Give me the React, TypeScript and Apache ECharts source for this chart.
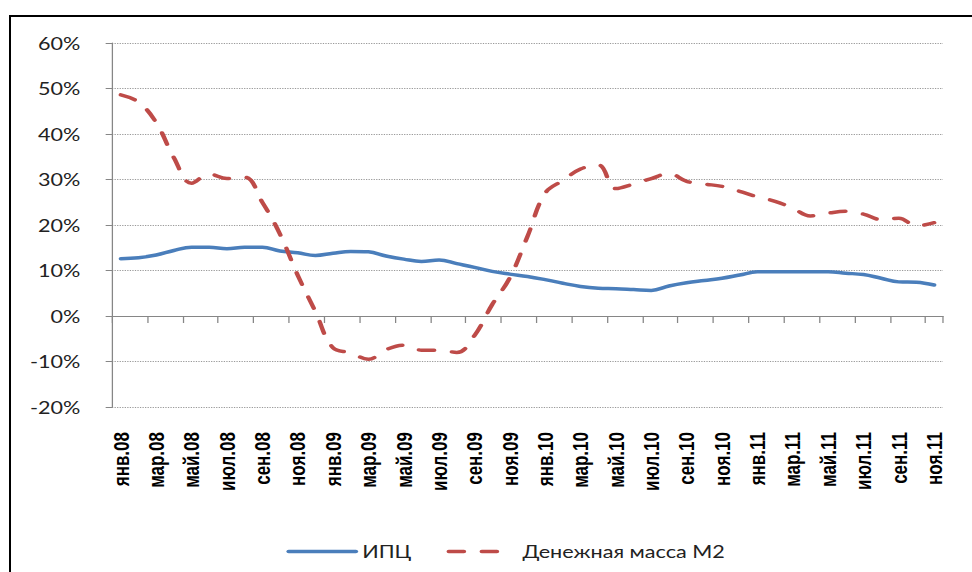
import React, { useEffect, useRef } from "react";
import * as echarts from "echarts";

const months = [
  "янв.08", "фев.08", "мар.08", "апр.08", "май.08", "июн.08", "июл.08", "авг.08", "сен.08", "окт.08", "ноя.08", "дек.08",
  "янв.09", "фев.09", "мар.09", "апр.09", "май.09", "июн.09", "июл.09", "авг.09", "сен.09", "окт.09", "ноя.09", "дек.09",
  "янв.10", "фев.10", "мар.10", "апр.10", "май.10", "июн.10", "июл.10", "авг.10", "сен.10", "окт.10", "ноя.10", "дек.10",
  "янв.11", "фев.11", "мар.11", "апр.11", "май.11", "июн.11", "июл.11", "авг.11", "сен.11", "окт.11", "ноя.11",
];

const cpi = [
  12.6, 12.8, 13.4, 14.4, 15.1, 15.1, 14.8, 15.1, 15.1, 14.3, 13.9, 13.3,
  13.8, 14.2, 14.1, 13.2, 12.5, 12.0, 12.3, 11.5, 10.7, 9.8, 9.2, 8.7,
  8.0, 7.2, 6.5, 6.1, 6.0, 5.8, 5.6, 6.6, 7.3, 7.8, 8.3, 9.0,
  9.7, 9.7, 9.7, 9.7, 9.7, 9.4, 9.1, 8.3, 7.5, 7.4, 6.8,
];

const m2 = [
  48.6, 47.0, 42.5, 34.8, 29.2, 31.2, 30.2, 30.5, 25.0, 18.0, 9.0, 1.0,
  -7.0, -8.1, -9.5, -7.4, -6.4, -7.5, -7.5, -8.0, -4.3, 2.5, 8.4, 17.5,
  27.0, 29.8, 32.3, 33.2, 28.0, 29.0, 30.2, 31.3, 29.6, 29.0, 28.5, 27.4,
  26.2, 25.2, 23.7, 22.0, 22.6, 23.0, 22.4, 21.2, 21.5, 19.8, 20.5,
];

const seriesNames = ["ИПЦ", "Денежная масса М2"];
const yMin = -20;
const yMax = 60;
const yStep = 10;

const STRETCH = 1.27;
const W = 972;
const H = 572;
const IW = W / STRETCH;

export default function App() {
  const ref = useRef<HTMLDivElement>(null);

  useEffect(() => {
    if (!ref.current) return;
    const chart = echarts.init(ref.current, null, { renderer: "svg", width: IW, height: H });
    const axisGray = "#868686";
    chart.setOption({
      animation: false,
      backgroundColor: "#ffffff",
      grid: { left: 112 / STRETCH, right: (W - 943) / STRETCH, top: 43, bottom: H - 407, containLabel: false },
      legend: {
        left: 220.5,
        top: 538,
        itemWidth: 53,
        itemHeight: 14,
        itemGap: 27.6,
        data: [
          { name: seriesNames[0] },
          { name: seriesNames[1], lineStyle: { type: [12, 14, 12, 40] } },
        ],
        itemStyle: { opacity: 0 },
        lineStyle: { width: 3.5, cap: "round" },
        textStyle: { fontFamily: "Lato", fontSize: 17, color: "#222" },
      },
      xAxis: [
        {
          type: "category",
          data: months,
          position: "bottom",
          boundaryGap: true,
          axisLine: { show: false, onZero: false },
          axisTick: { show: false },
          splitLine: { show: false },
          axisLabel: {
            interval: 1,
            rotate: 90,
            fontFamily: "Liberation Sans, Arial",
            fontWeight: "bold",
            fontSize: 17,
            color: "#000",
            margin: 25,
          },
        },
        {
          type: "category",
          data: months,
          position: "top",
          boundaryGap: true,
          axisLine: { show: true, onZero: true, lineStyle: { color: axisGray, width: 1 } },
          axisTick: { show: true, interval: 1, inside: true, length: 7, lineStyle: { color: axisGray, width: 1 } },
          axisLabel: { show: false },
          splitLine: { show: false },
        },
      ],
      yAxis: {
        type: "value",
        min: yMin,
        max: yMax,
        interval: yStep,
        axisLine: { show: true, onZero: false, lineStyle: { color: axisGray, width: 1 } },
        axisTick: { show: true, length: 5, lineStyle: { color: axisGray, width: 1 } },
        axisLabel: { formatter: "{value}%", fontFamily: "Lato", fontSize: 17, color: "#222", margin: 25 },
        splitLine: { show: true, lineStyle: { type: "dotted", color: "#9a9a9a", width: 1 } },
      },
      series: [
        {
          name: seriesNames[0],
          type: "line",
          data: cpi,
          xAxisIndex: 0,
          symbol: "none",
          smooth: 0.4,
          lineStyle: { color: "#4A7EBB", width: 3.5, cap: "round", join: "round" },
          itemStyle: { color: "#4A7EBB" },
        },
        {
          name: seriesNames[1],
          type: "line",
          data: m2,
          xAxisIndex: 0,
          symbol: "none",
          smooth: 0.4,
          lineStyle: { color: "#BE4B48", width: 3.5, type: [12, 14], cap: "round", join: "round" },
          itemStyle: { color: "#BE4B48" },
        },
      ],
    });
    return () => chart.dispose();
  }, []);

  return (
    <div style={{ position: "fixed", left: 0, top: 0, width: W, height: H, overflow: "hidden", background: "#fff" }}>
      <div
        ref={ref}
        style={{
          position: "absolute",
          left: 0,
          top: 0,
          width: IW,
          height: H,
          transform: `scaleX(${STRETCH})`,
          transformOrigin: "0 0",
        }}
      />
      <div
        style={{
          position: "absolute",
          left: 9,
          top: 15,
          width: 2000,
          height: 2000,
          borderLeft: "2px solid #000",
          borderTop: "2px solid #000",
          pointerEvents: "none",
        }}
      />
    </div>
  );
}
